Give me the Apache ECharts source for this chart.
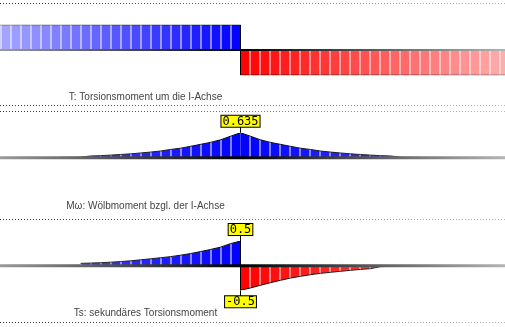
<!DOCTYPE html>
<html>
<head>
<meta charset="utf-8">
<script src="https://cdn.jsdelivr.net/npm/echarts@6/dist/echarts.min.js"></script>
<style>html,body{margin:0;padding:0;background:#fff;}#c{width:505px;height:327px;}</style>
</head>
<body>
<div id="c"></div>
<script>
// ---- data ----
const titles = ['T: Torsionsmoment um die I-Achse', 'M\u03c9: W\u00f6lbmoment bzgl. der I-Achse', 'Ts: sekund\u00e4res Torsionsmoment'];
const midSpan = 24.05;      // beam position of the load (middle)
const spanMax = 50.5;       // visible beam length
// node values, index k = distance from the middle (in segments)
const tLeft  = [1,1,1,1,1,1,1,1,1,1,1,1,1,1,1,1,1,1,1,1,1,1,1,1,1,1];
const tRight = [-1,-1,-1,-1,-1,-1,-1,-1,-1,-1,-1,-1,-1,-1,-1,-1,-1,-1,-1,-1,-1,-1,-1,-1,-1,-1,-1,-1];
const mwLeft  = [0.635,0.545,0.455,0.39,0.34,0.29,0.243,0.21,0.172,0.145,0.122,0.1,0.084,0.068,0.055,0.047,0.015,0.012,0.01];
const mwRight = [0.635,0.545,0.455,0.39,0.34,0.29,0.243,0.21,0.172,0.145,0.122,0.1,0.084,0.068,0.055,0.047,0.015,0.012,0.01];
const tsLeft  = [0.5,0.446,0.375,0.328,0.285,0.245,0.212,0.183,0.16,0.139,0.118,0.098,0.083,0.07,0.06,0.053,0.047];
const tsRight = [-0.5,-0.452,-0.398,-0.345,-0.297,-0.252,-0.216,-0.183,-0.156,-0.135,-0.115,-0.095,-0.076,-0.061,-0.02,-0.015,-0.012];

// ---- style / layout ----
const panels = [
  {left:tLeft, right:tRight, centerLine:true, labels:[], top:24.8, height:50.4, lw:2, titleY:97,
   lc:[0,0,255], le:[168,168,255], rc:[255,0,0], re:[255,172,172]},
  {left:mwLeft, right:mwRight, centerLine:false, labels:[mwLeft[0]], top:132.7, height:50.2, lw:3, titleY:206,
   lc:[0,0,255], le:[92,92,255], rc:[0,0,255], re:[92,92,255]},
  {left:tsLeft, right:tsRight, centerLine:true, labels:[tsLeft[0], tsRight[0]], top:241, height:49.3, lw:3, titleY:313,
   lc:[0,0,255], le:[90,90,255], rc:[255,0,0], re:[255,112,112]}
];
const dotYs = [3.5, 105.5, 111.5, 219.5, 322.5];

function mix(a, b, t) {
  t = Math.max(0, Math.min(1, t));
  return 'rgb(' + a.map((v, i) => Math.round(v + (b[i] - v) * t)).join(',') + ')';
}
function buildSegs(nodes, dir) {
  const out = [];
  for (let k = 0; k < nodes.length - 1; k++) {
    out.push([midSpan + dir * k, midSpan + dir * (k + 1), nodes[k], nodes[k + 1], dir, k]);
  }
  return out;
}

const grids = [], xAxes = [], yAxes = [], series = [], graphics = [];
const W = 505;
function hGrad(stops) { return new echarts.graphic.LinearGradient(0, 0, W, 0, stops, true); }

panels.forEach((p, i) => {
  const ymax = Math.max(...p.left.map(Math.abs), ...p.right.map(Math.abs));
  grids.push({left:0, right:0, top:p.top, height:p.height, containLabel:false});
  xAxes.push({type:'value', gridIndex:i, min:0, max:spanMax, show:false});
  yAxes.push({type:'value', gridIndex:i, min:-ymax, max:ymax, show:false});
  const segs = buildSegs(p.left, -1).concat(buildSegs(p.right, 1));
  series.push({
    type:'custom', xAxisIndex:i, yAxisIndex:i, z:2, silent:true, clip:true,
    data: segs,
    renderItem: function (params, api) {
      const xa = api.value(0), xb = api.value(1), va = api.value(2), vb = api.value(3);
      const dir = api.value(4), k = api.value(5);
      const pa0 = api.coord([xa, 0]), pav = api.coord([xa, va]);
      const pb0 = api.coord([xb, 0]), pbv = api.coord([xb, vb]);
      const sb0 = [pb0[0] - dir, pb0[1]], sbv = [pbv[0] - dir, pbv[1]];
      const frac = (k + 0.5) / (dir > 0 ? (spanMax - midSpan) : midSpan);
      const fill = dir > 0 ? mix(p.rc, p.re, frac) : mix(p.lc, p.le, frac);
      const children = [
        {type:'polygon', shape:{points:[pa0, pav, sbv, sb0]}, style:{fill:fill}},
        {type:'line', shape:{x1:pav[0], y1:pav[1], x2:pbv[0], y2:pbv[1]},
         style:{stroke:mix([0,0,0],[80,80,80],frac), lineWidth:1}}
      ];
      if (p.centerLine && k === 0) {
        children.push({type:'line', shape:{x1:pa0[0], y1:pa0[1], x2:pav[0], y2:pav[1]}, style:{stroke:'#000', lineWidth:1}});
      }
      return {type:'group', children:children};
    }
  });
  series.push({
    type:'line', xAxisIndex:i, yAxisIndex:i, z:3, silent:true, symbol:'none', animation:false,
    data:[[0,0],[spanMax,0]],
    lineStyle:{width:p.lw, color:hGrad([{offset:0,color:'#9a9a9a'},{offset:0.476,color:'#000'},{offset:1,color:'#b4b4b4'}])}
  });
  if (p.labels.length) {
    series.push({
      type:'custom', xAxisIndex:i, yAxisIndex:i, z:5, silent:true,
      data: p.labels.map(v => [midSpan, v, String(v)]),
      renderItem: function (params, api) {
        const pt = api.coord([api.value(0), api.value(1)]);
        const v = api.value(1);
        const d = v >= 0 ? -1 : 1;
        const ey = pt[1] + d * 6;
        return {type:'group', children:[
          {type:'line', shape:{x1:pt[0], y1:pt[1], x2:pt[0], y2:ey}, style:{stroke:'#000', lineWidth:1}},
          {type:'text', x:pt[0], y:ey, style:{text:String(api.value(2)), font:'12px "DejaVu Sans Mono"', fill:'#000',
            align:'center', verticalAlign: d < 0 ? 'bottom' : 'top', backgroundColor:'#ffff00',
            borderColor:'#000', borderWidth:1, padding:[1,1,0,1], lineHeight:10}}
        ]};
      }
    });
  }
  graphics.push({type:'text', x:145.5, y:p.titleY, z:10, silent:true,
    style:{text:titles[i], font:'10px "Liberation Sans"', fill:'#444', align:'center', verticalAlign:'middle'}});
});

dotYs.forEach(y => {
  graphics.push({type:'line', silent:true, shape:{x1:0, y1:y, x2:W, y2:y},
    style:{stroke:hGrad([{offset:0,color:'#333'},{offset:1,color:'#b8b8b8'}]), lineWidth:1, lineDash:[1,2]}});
});

const chart = echarts.init(document.getElementById('c'));
chart.setOption({
  animation:false,
  backgroundColor:'#fff',
  grid:grids, xAxis:xAxes, yAxis:yAxes, series:series, graphic:graphics
});
</script>
</body>
</html>
